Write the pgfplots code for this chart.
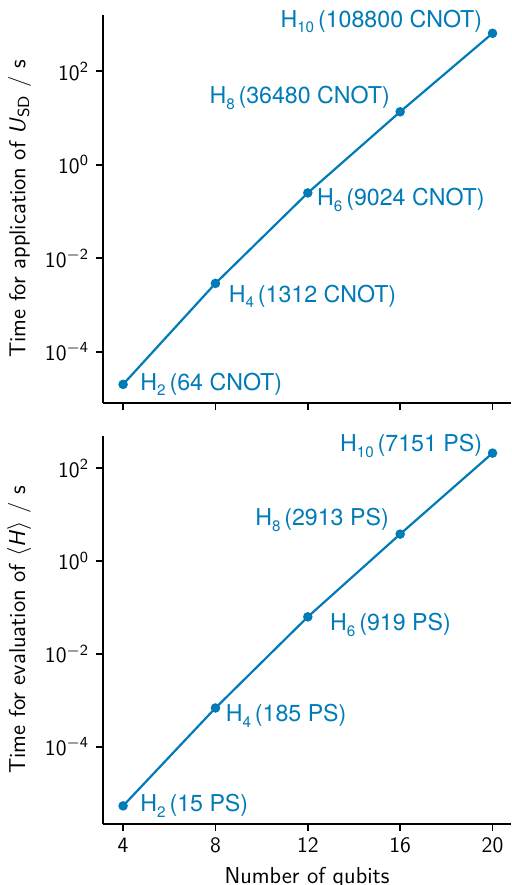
\documentclass[border=0pt]{standalone}
\usepackage{fontspec}
\usepackage{pgfplots}
\usepackage{pgfplotstable}
\pgfplotsset{compat=1.18}
\newfontfamily\annfont{TeX Gyre Heros}
\definecolor{lineblue}{RGB}{0,123,184}
\newcommand{\sub}[1]{\raisebox{-0.45ex}{\fontsize{7.6}{8}\selectfont #1}}

% time for the application of U_SD (s)
\pgfplotstableread{
q t
4 2.0e-5
8 2.9e-3
12 0.25
16 13.6
20 650
}\usdtable

% time for the evaluation of <H> (s)
\pgfplotstableread{
q t
4 5.4e-6
8 6.9e-4
12 0.063
16 3.8
20 210
}\hamtable

\pgfplotsset{
  every axis/.append style={
    scale only axis, width=204pt, height=194pt,
    xmin=3.13, xmax=20.8,
    axis x line*=bottom, axis y line*=left,
    axis line style={-, line width=0.9pt},
    xtick pos=bottom, ytick pos=left,
    tick align=outside, major tick length=3.5pt,
    every tick/.style={black, line width=0.9pt},
    xtick={4,8,12,16,20},
    yminorticks=false,
    ytick={1e-4,1e-2,1,1e2},
    yticklabels={10\textsuperscript{$-$4},10\textsuperscript{$-$2},10\textsuperscript{0},10\textsuperscript{2}},
    tick label style={font=\fontsize{11}{13}\selectfont\sffamily},
    label style={font=\fontsize{11.5}{13}\selectfont\sffamily},
    clip=false,
  },
}
\tikzset{
  ann/.style={font=\fontsize{11.6}{14}\selectfont\annfont, text=lineblue, inner sep=0pt},
}

\begin{document}
\sffamily
\begin{tikzpicture}
\begin{semilogyaxis}[at={(0,210.5pt)}, xticklabels={},
  ymin=8e-6, ymax=1.6e3,
  ylabel={Time for application of \textit{U}\textsubscript{SD} / s}]
  \addplot[lineblue, line width=1.1pt, mark=*, mark size=1.8pt] table[x=q, y=t] {\usdtable};
  \node[ann, anchor=west] at (axis cs:4,2.0e-5) [xshift=8.5pt] {H\sub{2}\,(64 CNOT)};
  \node[ann, anchor=west] at (axis cs:8,2.9e-3) [xshift=6.5pt, yshift=-6.5pt] {H\sub{4}\,(1312 CNOT)};
  \node[ann, anchor=west] at (axis cs:12,0.25) [xshift=4.5pt, yshift=-3.5pt] {H\sub{6}\,(9024 CNOT)};
  \node[ann, anchor=east] at (axis cs:16,13.6) [xshift=-5pt, yshift=7pt] {H\sub{8}\,(36480 CNOT)};
  \node[ann, anchor=east] at (axis cs:20,650) [xshift=-5pt, yshift=6pt] {H\sub{10}\,(108800 CNOT)};
\end{semilogyaxis}
\begin{semilogyaxis}[at={(0,0)},
  xticklabels={4,8,12,16,20},
  ymin=2.2e-6, ymax=4.9e2,
  xlabel={Number of qubits},
  ylabel={Time for evaluation of $\langle$\textit{H}$\rangle$ / s}]
  \addplot[lineblue, line width=1.1pt, mark=*, mark size=1.8pt] table[x=q, y=t] {\hamtable};
  \node[ann, anchor=west] at (axis cs:4,5.4e-6) [xshift=8.5pt] {H\sub{2}\,(15 PS)};
  \node[ann, anchor=west] at (axis cs:8,6.9e-4) [xshift=5pt, yshift=-4pt] {H\sub{4}\,(185 PS)};
  \node[ann, anchor=west] at (axis cs:12,0.063) [xshift=11pt, yshift=-4pt] {H\sub{6}\,(919 PS)};
  \node[ann, anchor=east] at (axis cs:16,3.8) [xshift=-5.5pt, yshift=7pt] {H\sub{8}\,(2913 PS)};
  \node[ann, anchor=east] at (axis cs:20,210) [xshift=-5pt, yshift=3.5pt] {H\sub{10}\,(7151 PS)};
\end{semilogyaxis}
\pgfresetboundingbox
\useasboundingbox (-51.5pt,-30.5pt) rectangle (204pt,412pt);
\end{tikzpicture}
\end{document}
